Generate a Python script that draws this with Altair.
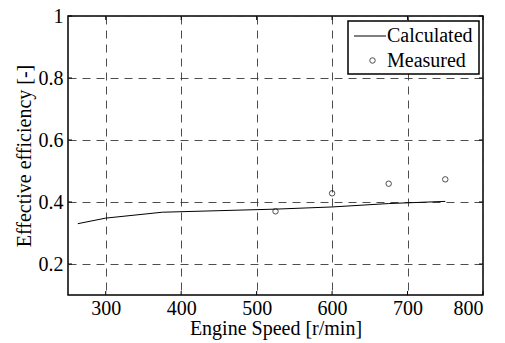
import altair as alt
import pandas as pd

calc_speed = [263, 300, 375, 450, 525, 600, 675, 750]
calc_eff = [0.330, 0.348, 0.367, 0.372, 0.377, 0.384, 0.395, 0.402]

meas_speed = [525, 600, 675, 750]
meas_eff = [0.370, 0.428, 0.459, 0.473]

legend_labels = ["Calculated", "Measured"]
x_ticks = [300, 400, 500, 600, 700, 800]
y_ticks = [0.2, 0.4, 0.6, 0.8, 1.0]

calc_df = pd.DataFrame({"speed": calc_speed, "eff": calc_eff})
meas_df = pd.DataFrame({"speed": meas_speed, "eff": meas_eff})
xt_df = pd.DataFrame({"v": x_ticks})
yt_df = pd.DataFrame({"v": y_ticks})

FONT = "Liberation Serif"
W, H = 415, 279

xs = alt.Scale(domain=[250, 800], nice=False, zero=False)
ys = alt.Scale(domain=[0.1, 1.0], nice=False, zero=False)

xaxis = alt.Axis(values=x_ticks, format="d",
                 title="Engine Speed [r/min]", grid=True)
yaxis = alt.Axis(values=y_ticks,
                 labelExpr="datum.value == 1 ? '1' : format(datum.value, '.1f')",
                 title="Effective efficiency [-]", grid=True)

line = alt.Chart(calc_df).mark_line(color="black", strokeWidth=1).encode(
    x=alt.X("speed:Q", scale=xs, axis=xaxis),
    y=alt.Y("eff:Q", scale=ys, axis=yaxis),
)

pts = alt.Chart(meas_df).mark_point(shape="circle", filled=False, color="black",
                                    size=30, strokeWidth=1).encode(
    x=alt.X("speed:Q", scale=xs),
    y=alt.Y("eff:Q", scale=ys),
)

# inward ticks on all four sides
tk = dict(color="black", strokeWidth=1)
xt_bot = alt.Chart(xt_df).mark_rule(**tk).encode(
    x=alt.X("v:Q", scale=xs), y=alt.value(H), y2=alt.value(H - 4))
xt_top = alt.Chart(xt_df).mark_rule(**tk).encode(
    x=alt.X("v:Q", scale=xs), y=alt.value(0), y2=alt.value(4))
yt_left = alt.Chart(yt_df).mark_rule(**tk).encode(
    y=alt.Y("v:Q", scale=ys), x=alt.value(0), x2=alt.value(4))
yt_right = alt.Chart(yt_df).mark_rule(**tk).encode(
    y=alt.Y("v:Q", scale=ys), x=alt.value(W), x2=alt.value(W - 4))

leg_df = pd.DataFrame({"label": legend_labels})
box = alt.Chart(leg_df.head(1)).mark_rect(fill="white", stroke="black", strokeWidth=1.5).encode(
    x=alt.value(280), x2=alt.value(411), y=alt.value(5), y2=alt.value(58)
)
leg_line = alt.Chart(leg_df.head(1)).mark_rule(color="black", strokeWidth=1).encode(
    x=alt.value(286), x2=alt.value(318), y=alt.value(20)
)
leg_pt = alt.Chart(leg_df.head(1)).mark_point(shape="circle", filled=False, color="black",
                                             size=30, strokeWidth=1).encode(
    x=alt.value(304.5), y=alt.value(44.5)
)
leg_text1 = alt.Chart(leg_df.head(1)).mark_text(font=FONT, fontSize=20, align="left",
                                                baseline="middle", color="black").encode(
    x=alt.value(319), y=alt.value(20), text="label:N",
)
leg_text2 = alt.Chart(leg_df.tail(1)).mark_text(font=FONT, fontSize=20, align="left",
                                                baseline="middle", color="black").encode(
    x=alt.value(319), y=alt.value(45), text="label:N",
)

chart = alt.layer(line, pts, xt_bot, xt_top, yt_left, yt_right,
                  box, leg_line, leg_pt, leg_text1, leg_text2).properties(
    width=W, height=H,
    autosize=alt.AutoSizeParams(type="none"),
    padding={"left": 60, "top": 8, "right": 14, "bottom": 46},
).configure_view(
    stroke="black", strokeWidth=1.5
).configure_axis(
    domain=False,
    ticks=False,
    gridColor="#3a3a3a",
    gridDash=[8, 6],
    gridWidth=1,
    gridOpacity=0.9,
    labelFont=FONT,
    labelFontSize=20,
    labelColor="black",
    titleFont=FONT,
    titleFontSize=20,
    titleFontWeight="normal",
    titleColor="black",
).configure_axisX(
    labelPadding=3,
    titlePadding=0,
).configure_axisY(
    labelPadding=5,
    titlePadding=4,
)

chart.save("out.html", embed_options={"renderer": "svg", "actions": False})
